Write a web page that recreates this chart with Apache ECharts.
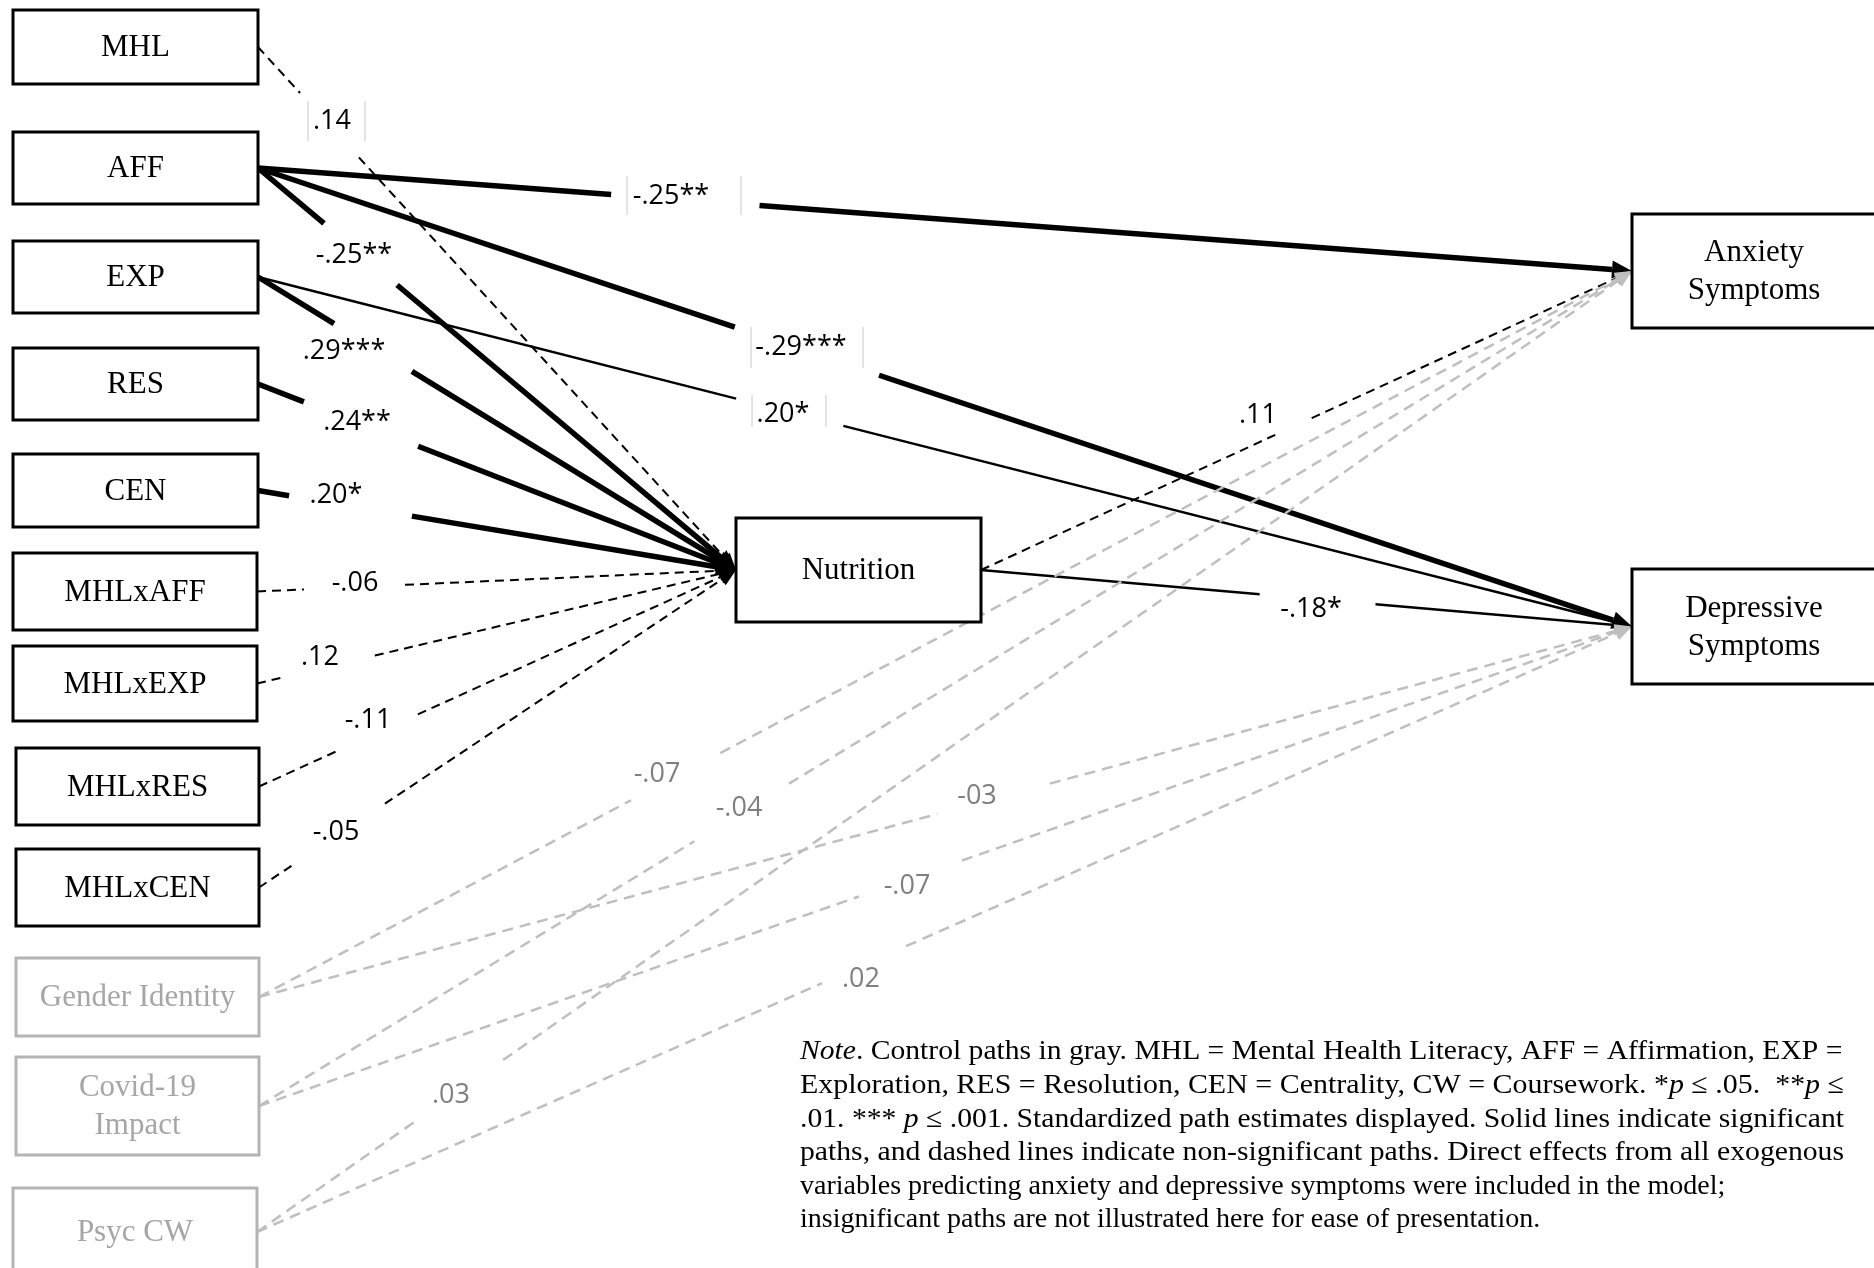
<!DOCTYPE html>
<html>
<head>
<meta charset="utf-8">
<script src="https://cdn.jsdelivr.net/npm/echarts@6/dist/echarts.min.js"></script>
<style>
  html, body { margin: 0; padding: 0; background: #fff; }
  #main { width: 1874px; height: 1268px; }
</style>
</head>
<body>
<div id="main"></div>
<script>
// variables in the path model
const nodeNames = ["MHL", "AFF", "EXP", "RES", "CEN", "MHLxAFF", "MHLxEXP", "MHLxRES", "MHLxCEN",
  "Gender Identity", "Covid-19\nImpact", "Psyc CW", "Nutrition", "Anxiety\nSymptoms", "Depressive\nSymptoms"];
const nodeIsControl = [0, 0, 0, 0, 0, 0, 0, 0, 0, 1, 1, 1, 0, 0, 0];

// paths (from -> to), estimate label and significance
const pathFrom = ["MHL", "AFF", "EXP", "RES", "CEN", "MHLxAFF", "MHLxEXP", "MHLxRES", "MHLxCEN",
  "Nutrition", "Nutrition", "AFF", "AFF", "EXP",
  "Gender Identity", "Gender Identity", "Covid-19\nImpact", "Covid-19\nImpact", "Psyc CW", "Psyc CW"];
const pathTo = ["Nutrition", "Nutrition", "Nutrition", "Nutrition", "Nutrition", "Nutrition", "Nutrition", "Nutrition", "Nutrition",
  "Anxiety\nSymptoms", "Depressive\nSymptoms", "Anxiety\nSymptoms", "Depressive\nSymptoms", "Depressive\nSymptoms",
  "Anxiety\nSymptoms", "Depressive\nSymptoms", "Anxiety\nSymptoms", "Depressive\nSymptoms", "Anxiety\nSymptoms", "Depressive\nSymptoms"];
const pathLabel = [".14", "-.25**", ".29***", ".24**", ".20*", "-.06", ".12", "-.11", "-.05",
  ".11", "-.18*", "-.25**", "-.29***", ".20*",
  "-.07", "-03", "-.04", "-.07", ".03", ".02"];
const pathKind = ["ns", "sig", "sig", "sig", "sig", "ns", "ns", "ns", "ns",
  "ns", "sig", "sig", "sig", "sig",
  "ctrl", "ctrl", "ctrl", "ctrl", "ctrl", "ctrl"];

const noteLines = [
  "{i|Note}. Control paths in gray. MHL = Mental Health Literacy, AFF = Affirmation, EXP =",
  "Exploration, RES = Resolution, CEN = Centrality, CW = Coursework. *{i|p} ≤ .05.  **{i|p} ≤",
  ".01. *** {i|p} ≤ .001. Standardized path estimates displayed. Solid lines indicate significant",
  "paths, and dashed lines indicate non-significant paths. Direct effects from all exogenous",
  "variables predicting anxiety and depressive symptoms were included in the model;",
  "insignificant paths are not illustrated here for ease of presentation."
];
const noteJustified = [1, 1, 1, 1, 0, 0];

// layout (pixel space of the picture): boxes [x0, y0, x1, y1]
const boxes = [
  [13, 10, 258, 84], [13, 132, 258, 204], [13, 241, 258, 313], [13, 348, 258, 420], [13, 454, 258, 527],
  [13, 553, 257, 630], [13, 646, 257, 721], [16, 748, 259, 825], [16, 849, 259, 926],
  [16, 958, 259, 1036], [16, 1057, 259, 1155], [13, 1188, 257, 1276],
  [736, 518, 981, 622], [1632, 214, 1900, 328], [1632, 569, 1900, 684]
];
// per path: gap start/end along the line, label centre x,y
const labelPlace = [
  [0.088, 0.211, 332, 121], [0.138, 0.291, 354, 255], [0.159, 0.322, 344, 351], [0.096, 0.335, 357, 422],
  [0.065, 0.322, 336, 495], [0.098, 0.309, 355, 583], [0.05, 0.246, 320, 657], [0.164, 0.333, 368, 720],
  [0.071, 0.264, 336, 832],
  [0.452, 0.508, 1258, 415], [0.428, 0.606, 1311, 609], [0.257, 0.365, 671, 196], [0.347, 0.452, 801, 347],
  [0.348, 0.426, 783, 414],
  [0.271, 0.336, 657, 774], [0.494, 0.576, 977, 796], [0.317, 0.386, 739, 808], [0.437, 0.512, 907, 886],
  [0.117, 0.179, 451, 1095], [0.411, 0.472, 861, 979]
];
// thin light frames drawn around some labels [x0, x1, y0, y1]
const labelFrames = [[308, 365, 101, 141], [627, 741, 176, 215], [751, 863, 327, 368], [752, 826, 395, 427]];
const lineWidth = [2, 5.5, 5.5, 5.5, 5.5, 2, 2, 2, 2, 2, 2.5, 5.5, 5.5, 2.5, 2.5, 2.5, 2.5, 2.5, 2.5, 2.5];

const NOTE_FONT = "28px 'Liberation Serif'";
const NOTE_WIDTH = 1044;

const chart = echarts.init(document.getElementById("main"));

function idx(name) { return nodeNames.indexOf(name); }

function pathEnds(i) {
  const a = boxes[idx(pathFrom[i])], b = boxes[idx(pathTo[i])];
  return [[a[2], (a[1] + a[3]) / 2], [b[0], (b[1] + b[3]) / 2]];
}

function renderBox(params, api) {
  const i = params.dataIndex;
  const b = boxes[i];
  const p0 = api.coord([b[0], b[1]]), p1 = api.coord([b[2], b[3]]);
  const ctrl = nodeIsControl[i];
  return {
    type: "group",
    children: [{
      type: "rect",
      shape: { x: p0[0], y: p0[1], width: p1[0] - p0[0], height: p1[1] - p0[1] },
      style: { fill: "#fff", stroke: ctrl ? "#b4b4b4" : "#000", lineWidth: 3 }
    }, {
      type: "text",
      x: (p0[0] + p1[0]) / 2 + (i >= 13 ? -12 : 0),
      y: (p0[1] + p1[1]) / 2 + 1,
      style: {
        text: nodeNames[i], fill: ctrl ? "#a6a6a6" : "#000",
        font: "31px 'Liberation Serif'", align: "center", verticalAlign: "middle", lineHeight: 38
      }
    }]
  };
}

function renderPath(params, api) {
  const i = params.dataIndex;
  const e = pathEnds(i);
  const s = api.coord(e[0]), t = api.coord(e[1]);
  const dx = t[0] - s[0], dy = t[1] - s[1];
  const len = Math.sqrt(dx * dx + dy * dy);
  const ux = dx / len, uy = dy / len;
  const kind = pathKind[i];
  const color = kind == "ctrl" ? "#bfbfbf" : "#000";
  const dash = kind == "sig" ? null : (kind == "ctrl" ? [11, 7] : [9, 6]);
  const lw = lineWidth[i];
  const ah = lw >= 4 ? 20 : 17, aw = lw >= 4 ? 9 : 7;
  const base = [t[0] - ux * ah, t[1] - uy * ah];
  const g = labelPlace[i];
  const at = (f) => [s[0] + dx * f, s[1] + dy * f];
  const style = { stroke: color, lineWidth: lw, lineDash: dash, fill: null };
  return {
    type: "group",
    children: [{
      type: "line", shape: { x1: s[0], y1: s[1], x2: at(g[0])[0], y2: at(g[0])[1] }, style: style
    }, {
      type: "line", shape: { x1: at(g[1])[0], y1: at(g[1])[1], x2: base[0], y2: base[1] }, style: style
    }, {
      type: "polygon",
      shape: { points: [t, [base[0] - uy * aw, base[1] + ux * aw], [base[0] + uy * aw, base[1] - ux * aw]] },
      style: { fill: color }
    }]
  };
}

function renderLabel(params, api) {
  const i = params.dataIndex;
  const g = labelPlace[i];
  const p = api.coord([g[2], g[3]]);
  return {
    type: "text", x: p[0], y: p[1],
    style: {
      text: pathLabel[i], fill: pathKind[i] == "ctrl" ? "#7f7f7f" : "#000",
      font: "27px 'Open Sans'", align: "center", verticalAlign: "middle"
    }
  };
}

function renderFrame(params, api) {
  const f = labelFrames[params.dataIndex];
  const a = api.coord([f[0], f[2]]), b = api.coord([f[1], f[3]]);
  const st = { stroke: "#c8c8c8", lineWidth: 1 };
  return {
    type: "group",
    children: [
      { type: "line", shape: { x1: a[0], y1: a[1], x2: a[0], y2: b[1] }, style: st },
      { type: "line", shape: { x1: b[0], y1: a[1], x2: b[0], y2: b[1] }, style: st }
    ]
  };
}

// stretch the justified note lines to the column width
const measureCtx = document.createElement("canvas").getContext("2d");
measureCtx.font = NOTE_FONT;
function noteScale(k) {
  if (!noteJustified[k]) return 1;
  const plain = noteLines[k].replace(/\{i\|([^}]*)\}/g, "$1");
  return NOTE_WIDTH / measureCtx.measureText(plain).width;
}

chart.setOption({
  animation: false,
  grid: { left: 0, right: 0, top: 0, bottom: 0 },
  xAxis: { type: "value", min: 0, max: 1874, show: false },
  yAxis: { type: "value", min: 0, max: 1268, inverse: true, show: false },
  graphic: noteLines.map((l, k) => ({
    type: "text", x: 800, y: 1038 + k * 33.6, scaleX: noteScale(k),
    style: {
      text: l, font: NOTE_FONT, fill: "#000",
      rich: { i: { fontStyle: "italic", fontFamily: "Liberation Serif", fontSize: 28 } }
    }
  })),
  series: [
    { type: "custom", renderItem: renderPath, data: pathKind.map((k, i) => [i]), clip: false, z: 2, silent: true },
    { type: "custom", renderItem: renderBox, data: nodeNames.map((n, i) => [i]), clip: false, z: 3, silent: true },
    { type: "custom", renderItem: renderLabel, data: pathLabel.map((l, i) => [i]), clip: false, z: 4, silent: true },
    { type: "custom", renderItem: renderFrame, data: labelFrames.map((f, i) => [i]), clip: false, z: 4, silent: true }
  ]
});
</script>
</body>
</html>
